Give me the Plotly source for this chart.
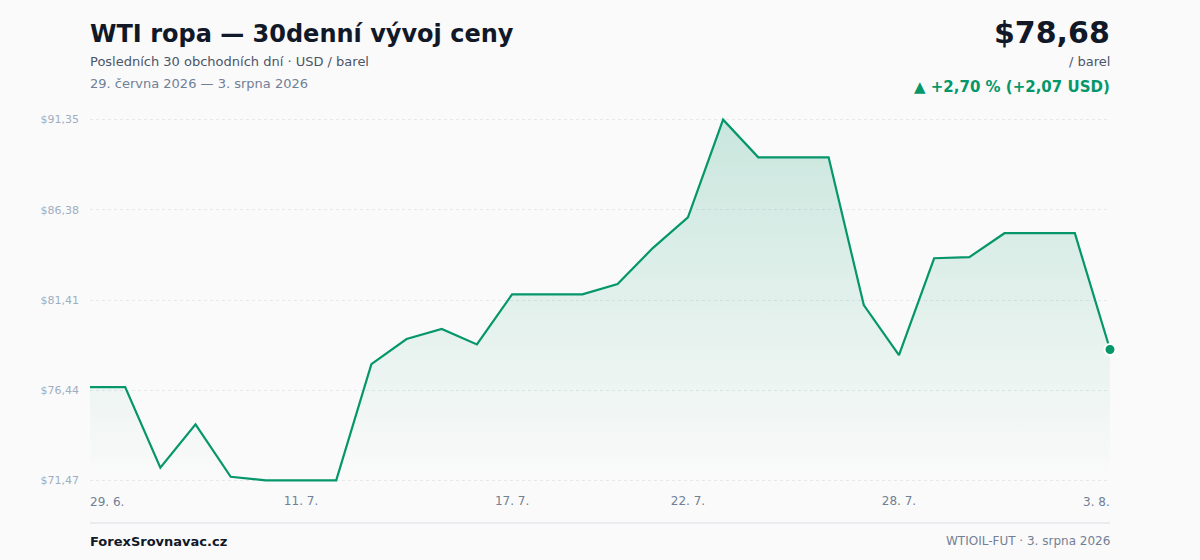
import plotly.graph_objects as go

# data
day_idx = list(range(30))
prices = [76.61, 76.61, 72.17, 74.56, 71.67, 71.47, 71.47, 71.47, 77.88, 79.26,
          79.81, 78.96, 81.72, 81.72, 81.72, 82.29, 84.27, 85.96, 91.35, 89.27,
          89.27, 89.27, 81.13, 78.37, 83.71, 83.77, 85.09, 85.09, 85.09, 78.68]
tick_idx = [0, 6, 12, 17, 23, 29]
tick_labels = ["29. 6.", "11. 7.", "17. 7.", "22. 7.", "28. 7.", "3. 8."]
y_ticks = [71.47, 76.44, 81.41, 86.38, 91.35]
y_labels = ["$71,47", "$76,44", "$81,41", "$86,38", "$91,35"]

GREEN = "#059669"
BG = "#fafafa"
FONT = "DejaVu Sans"

W, H = 1200, 560
M_L, M_R, M_T, M_B = 90, 90, 116, 76
PLOT_H = H - M_T - M_B
pad = 0.2


def py(px):
    # pixel row -> paper y
    return (H - M_B - px) / PLOT_H


fig = go.Figure()
# baseline for the gradient fill
fig.add_trace(go.Scatter(x=day_idx, y=[min(prices)] * len(prices), mode="lines",
                         line=dict(width=0), hoverinfo="skip", showlegend=False))
fig.add_trace(go.Scatter(
    x=day_idx, y=prices, mode="lines", fill="tonexty",
    line=dict(color=GREEN, width=2.2),
    fillgradient=dict(type="vertical",
                      colorscale=[[0, "rgba(5,150,105,0.0)"], [1, "rgba(5,150,105,0.20)"]],
                      start=min(prices), stop=max(prices)),
    showlegend=False))
fig.add_trace(go.Scatter(x=[day_idx[-1]], y=[prices[-1]], mode="markers",
                         marker=dict(color=GREEN, size=11, line=dict(color="white", width=2)),
                         cliponaxis=False, showlegend=False))

fig.update_layout(
    width=W, height=H,
    margin=dict(l=M_L, r=M_R, t=M_T, b=M_B),
    paper_bgcolor=BG, plot_bgcolor=BG,
    font=dict(family=FONT),
    xaxis=dict(range=[0, 29], showgrid=False, zeroline=False, showline=False,
               tickvals=tick_idx[1:-1], ticktext=tick_labels[1:-1],
               tickfont=dict(size=12, color="#718096"), ticks="", ticklabelstandoff=8),
    yaxis=dict(range=[min(prices) - pad, max(prices) + pad], tickvals=y_ticks, ticktext=y_labels,
               showgrid=True, gridcolor="#e6e8ec", griddash="dot", gridwidth=1,
               zeroline=False, showline=False, ticks="",
               tickfont=dict(size=11, color="#a0aec0"), ticklabelstandoff=10),
)

# end tick labels aligned to the plot edges
for i, anchor, shift in ((0, "left", -2), (-1, "right", 2)):
    fig.add_annotation(x=tick_idx[i], y=py(502), xref="x", yref="paper", text=tick_labels[i],
                       showarrow=False, xanchor=anchor, yanchor="middle", xshift=shift,
                       font=dict(size=12, color="#718096"))


def left_text(text, row, size, color):
    fig.add_annotation(x=0, y=py(row), xref="paper", yref="paper", text=text, xshift=-2,
                       showarrow=False, xanchor="left", yanchor="middle", font=dict(size=size, color=color))


def right_text(text, row, size, color):
    fig.add_annotation(x=1, y=py(row), xref="paper", yref="paper", text=text, xshift=2,
                       showarrow=False, xanchor="right", yanchor="middle", font=dict(size=size, color=color))


# header
left_text("<b>WTI ropa — 30denní vývoj ceny</b>", 34, 24, "#111827")
left_text("Posledních 30 obchodních dní · USD / barel", 61, 13, "#4a5568")
left_text("29. června 2026 — 3. srpna 2026", 83, 13, "#718096")
right_text("<b>$78,68</b>", 32, 30, "#111827")
right_text("/ barel", 61, 13, "#4a5568")
right_text("<b>▲ +2,70 % (+2,07 USD)</b>", 87, 15, GREEN)

# footer
fig.add_shape(type="line", xref="paper", yref="paper", x0=0, x1=1, y0=py(523), y1=py(523),
              line=dict(color="#e5e7eb", width=1.5))
left_text("<b>ForexSrovnavac.cz</b>", 541, 13, "#111827")
right_text("WTIOIL-FUT · 3. srpna 2026", 541, 12, "#718096")

# page body has a default 8px margin; remove it so the figure sits at the window corner
fig.write_html("out.html", config={"displayModeBar": False},
               post_script="document.body.style.margin='0';")
